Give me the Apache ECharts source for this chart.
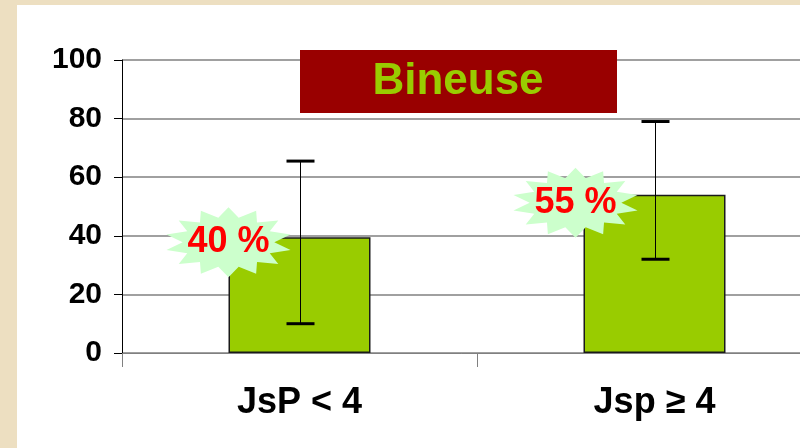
<!DOCTYPE html>
<html>
<head>
<meta charset="utf-8">
<script src="https://cdn.jsdelivr.net/npm/echarts@6/dist/echarts.min.js"></script>
<style>
  html, body { margin: 0; padding: 0; }
  #main { width: 800px; height: 448px; }
</style>
</head>
<body>
<div id="main"></div>
<script>
var categories = ['JsP < 4', 'Jsp ≥ 4'];
var means = [39.5, 54];
var errLow = [10, 32];
var errHigh = [65.5, 79];
var badges = ['40 %', '55 %'];
var yTicks = [0, 20, 40, 60, 80, 100];

var myChart = echarts.init(document.getElementById('main'));

// star shape for the badges, built once as an svg path
function starPath(spikes) {
    var d = '';
    for (var i = 0; i < spikes * 2; i++) {
        var r = i % 2 === 0 ? 50 : 36;
        var a = Math.PI * i / spikes - Math.PI / 2;
        var x = 50 + r * Math.cos(a);
        var y = 50 + r * Math.sin(a);
        d += (i === 0 ? 'M' : 'L') + x.toFixed(1) + ' ' + y.toFixed(1) + ' ';
    }
    return 'path://' + d + 'Z';
}
var star = starPath(14);
var badgeOffsets = [[-71, 5], [-79, 8]];

var font = 'Liberation Sans, Arial, sans-serif';

var option = {
    backgroundColor: '#eddfc1',
    animation: false,
    graphic: [{
        type: 'rect',
        z: -10,
        shape: { x: 17, y: 5, width: 800, height: 460 },
        style: { fill: '#ffffff' }
    }, {
        type: 'rect',
        z: 100,
        shape: { x: 300, y: 50, width: 317, height: 63 },
        style: { fill: '#990000' }
    }, {
        type: 'text',
        z: 101,
        x: 458,
        y: 82,
        style: {
            text: 'Bineuse',
            fill: '#99cc00',
            font: 'bold 44px ' + font,
            align: 'center',
            verticalAlign: 'middle'
        }
    }],
    grid: {
        left: 122,
        top: 60,
        width: 710,
        height: 293,
        outerBoundsMode: 'none'
    },
    xAxis: {
        type: 'category',
        data: categories,
        axisLine: { lineStyle: { color: '#808080', width: 1 } },
        axisTick: { show: true, length: 14, lineStyle: { color: '#808080' } },
        axisLabel: {
            margin: 32,
            color: '#000',
            fontSize: 36,
            fontWeight: 'bold',
            fontFamily: font
        }
    },
    yAxis: {
        type: 'value',
        min: 0,
        max: 100,
        interval: 20,
        axisLine: { show: true, lineStyle: { color: '#000', width: 1 } },
        axisTick: { show: true, length: 8, lineStyle: { color: '#000' } },
        splitLine: { lineStyle: { color: '#808080', width: 1.5 } },
        axisLabel: {
            margin: 20,
            color: '#000',
            fontSize: 30,
            fontWeight: 'bold',
            fontFamily: font,
            formatter: function (v) {
                return yTicks.indexOf(v) >= 0 ? String(v) : '';
            }
        }
    },
    series: [{
        type: 'bar',
        data: means,
        barWidth: '40%',
        itemStyle: { color: '#99cc00', borderColor: '#1a1a1a', borderWidth: 1.5 },
        z: 2
    }, {
        type: 'custom',
        z: 3,
        data: categories.map(function (c, i) { return [i, errLow[i], errHigh[i]]; }),
        renderItem: function (params, api) {
            var lo = api.coord([api.value(0), api.value(1)]);
            var hi = api.coord([api.value(0), api.value(2)]);
            var x = lo[0] + 1;
            var half = 14;
            return {
                type: 'group',
                children: [{
                    type: 'line',
                    shape: { x1: x, y1: hi[1], x2: x, y2: lo[1] },
                    style: { stroke: '#000', lineWidth: 1 }
                }, {
                    type: 'line',
                    shape: { x1: x - half, y1: hi[1], x2: x + half, y2: hi[1] },
                    style: { stroke: '#000', lineWidth: 3 }
                }, {
                    type: 'line',
                    shape: { x1: x - half, y1: lo[1], x2: x + half, y2: lo[1] },
                    style: { stroke: '#000', lineWidth: 3 }
                }]
            };
        }
    }, {
        type: 'scatter',
        z: 5,
        symbol: star,
        symbolSize: [124, 70],
        data: means.map(function (m, i) {
            return {
                value: [i, m],
                symbolOffset: badgeOffsets[i],
                label: {
                    show: true,
                    position: 'inside',
                    formatter: badges[i],
                    color: '#ff0000',
                    fontSize: 36,
                    fontWeight: 'bold',
                    fontFamily: font
                }
            };
        }),
        itemStyle: { color: '#ccffcc', opacity: 1 }
    }]
};

myChart.setOption(option);

window.onresize = function () {
    myChart.resize();
};
</script>
</body>
</html>
